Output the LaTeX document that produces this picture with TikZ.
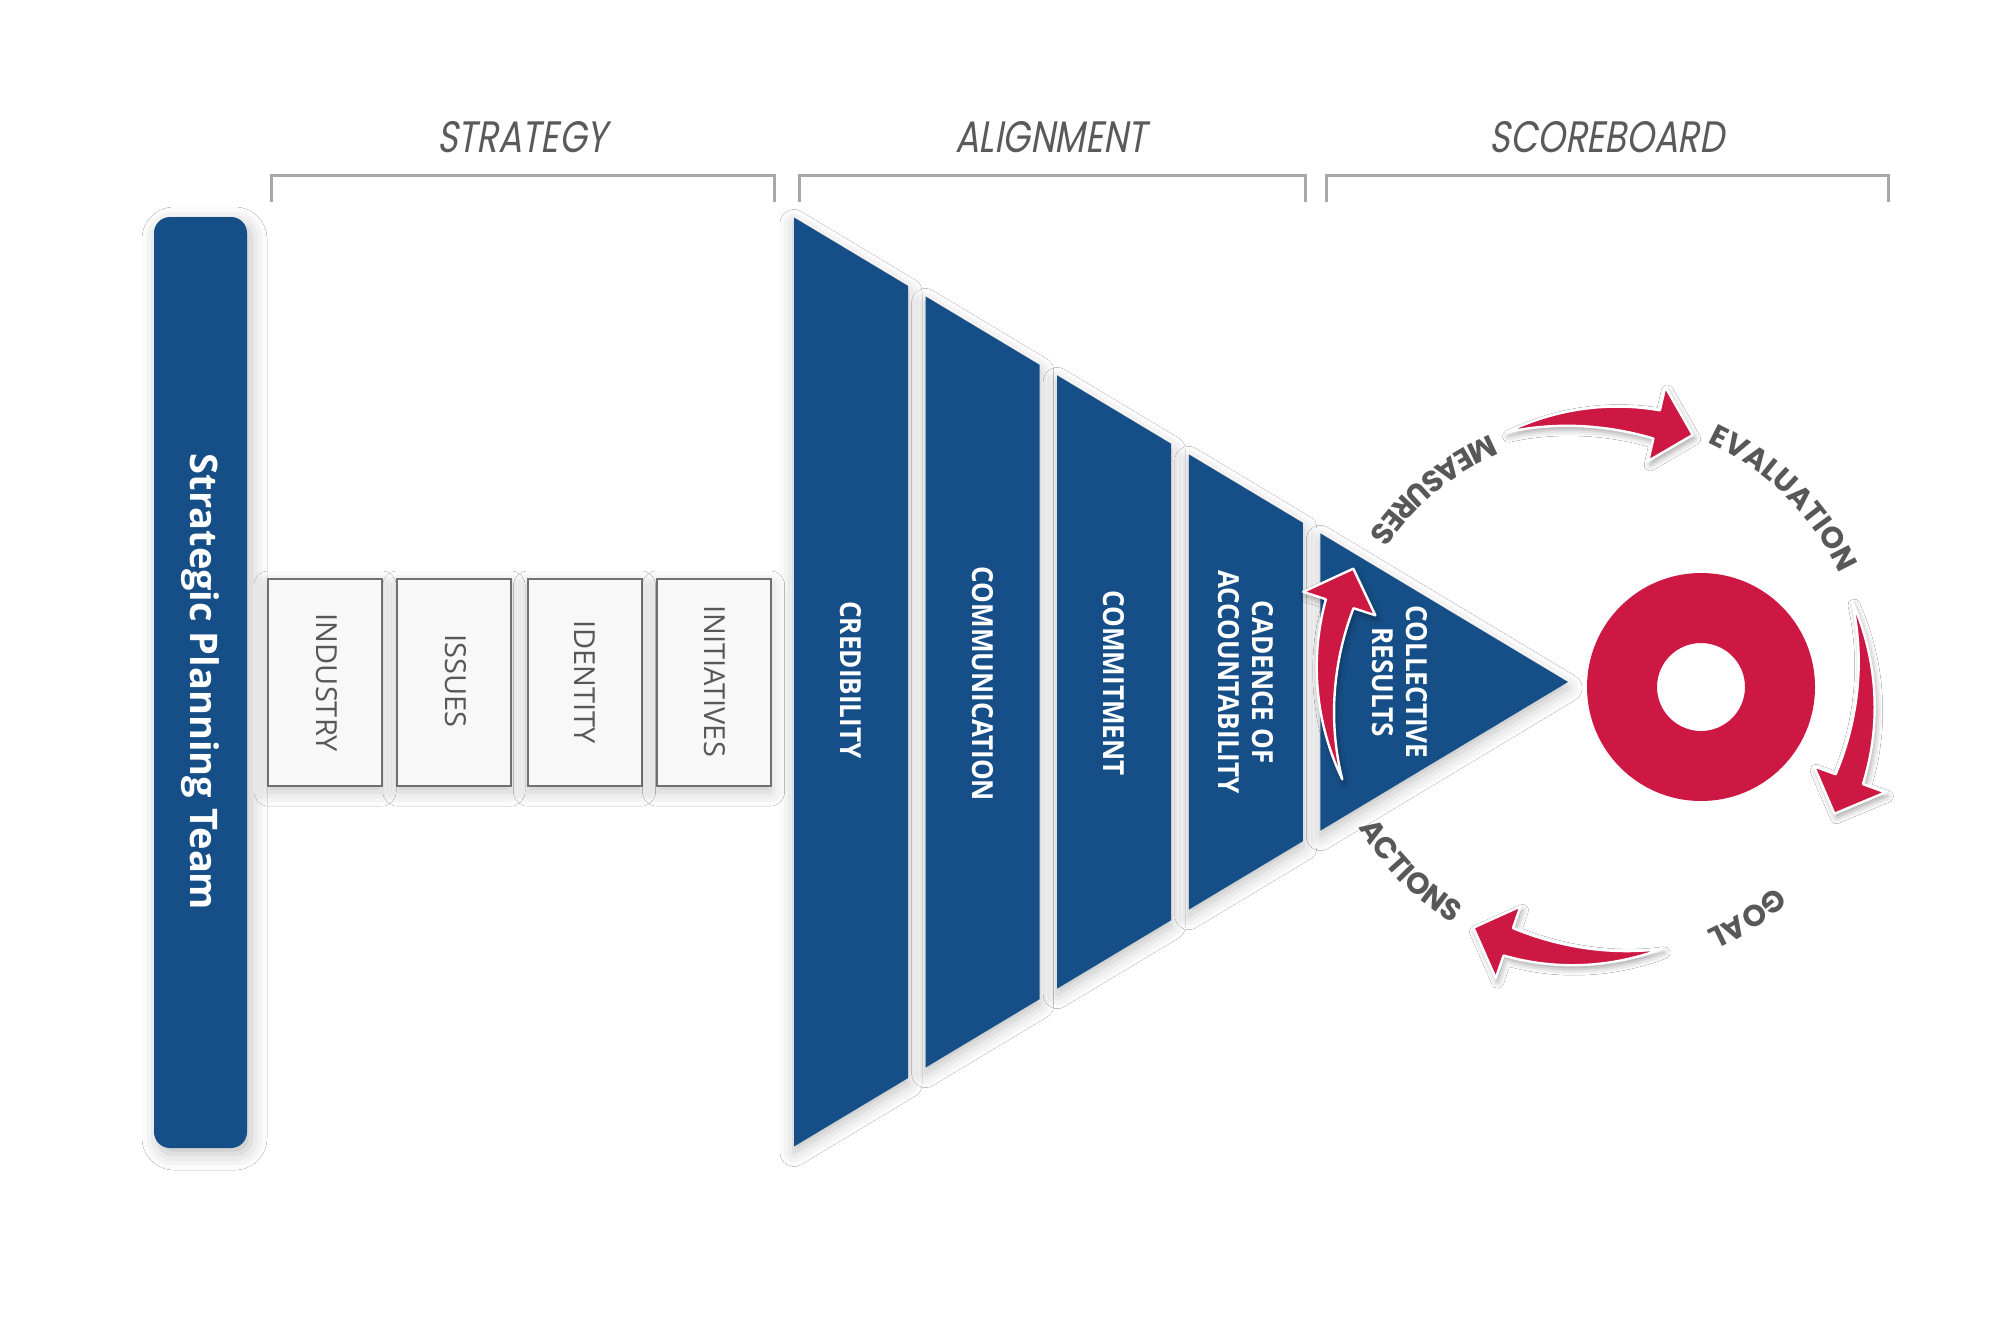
\documentclass[tikz,border=0pt]{standalone}
\usepackage{fontspec}
\setmainfont{Open Sans}
\newfontfamily\osfont[FakeStretch=0.9]{Open Sans}
\newfontfamily\boxfont{Open Sans}
\newfontfamily\teamfont{Open Sans}
\newfontfamily\hdrfont[FakeStretch=0.8,FakeSlant=0.18]{Poppins}
\newfontfamily\lblfont{Poppins}
\usetikzlibrary{shadows.blur,decorations.text}
\definecolor{fblue}{RGB}{22,79,135}
\definecolor{fred}{RGB}{204,24,66}
\definecolor{txtgray}{RGB}{88,88,88}
\definecolor{hdrgray}{RGB}{90,90,90}
\definecolor{brgray}{RGB}{168,168,168}
\definecolor{boxfill}{RGB}{248,248,248}
\definecolor{boxline}{RGB}{112,112,112}
\tikzset{
  hdr/.style={font={\hdrfont\fontsize{22}{24}\selectfont}, text=hdrgray, inner sep=0pt},
  bracket/.style={draw=brgray, line width=1.5pt},
  segshape/.style={fill=fblue, blur shadow={shadow xshift=0pt, shadow yshift=-3pt, shadow blur radius=7pt, shadow opacity=25}},
  segtxt/.style={font={\osfont\bfseries\fontsize{14.5}{17}\selectfont}, text=white, rotate=-90, align=center, inner sep=0pt},
  boxtxt/.style={font={\boxfont\fontsize{14.5}{17}\selectfont}, text=txtgray, rotate=-90, inner sep=0pt},
  sbox/.style={draw=boxline, line width=1pt, fill=boxfill, minimum width=57pt, minimum height=103.5pt, inner sep=0pt,
    blur shadow={shadow xshift=0pt, shadow yshift=-3pt, shadow blur radius=7pt, shadow opacity=22}},
  teambar/.style={fill=fblue, rounded corners=8pt, minimum width=46.5pt, minimum height=465.5pt, inner sep=0pt,
    blur shadow={shadow xshift=2pt, shadow yshift=-3pt, shadow blur radius=8pt, shadow opacity=25}},
  teamtxt/.style={font={\teamfont\bfseries\fontsize{19}{22}\selectfont}, text=white, rotate=-90, inner sep=0pt},
  arrowsty/.style={fill=fred, draw=white, line width=1.2pt, line join=round,
    blur shadow={shadow xshift=1pt, shadow yshift=-2pt, shadow blur radius=3pt, shadow opacity=35}},
  target/.style={fill=fred, even odd rule},
  declare function={tp(\u)=0.6*\u+0.4*sin(90*\u);},
}
% curved tapered arrow on the cycle: tail angle, head-base angle, tip angle
\newcommand\redarrow[3]{%
  \fill[arrowsty]
    plot[domain=0:1, samples=40, variable=\u]
      ({1596+(270+14*tp(\u))*cos(#1+(#2-#1)*\u)}, {687+(270+14*tp(\u))*sin(#1+(#2-#1)*\u)})
    -- ({1596+308*cos(#2)},{687+308*sin(#2)})
    -- ({1596+270*cos(#3)},{687+270*sin(#3)})
    -- ({1596+232*cos(#2)},{687+232*sin(#2)})
    -- plot[domain=0:1, samples=40, variable=\u]
      ({1596+(270-15*tp(1-\u))*cos(#2+(#1-#2)*\u)}, {687+(270-15*tp(1-\u))*sin(#2+(#1-#2)*\u)})
    -- cycle;}
% label along the cycle: mid angle, radius, direction (+1 clockwise, -1 counter), text
\newcommand\arclabel[4]{%
  \path[decorate, decoration={text along path, text align=center,
      text={|\lblfont\bfseries\fontsize{15}{15}\selectfont\color{txtgray}|#4}}]
    plot[domain=0:1, samples=80, variable=\u]
      ({1596+#2*cos(#1+#3*40*(2*\u-1))}, {687+#2*sin(#1+#3*40*(2*\u-1))});}
\begin{document}
\begin{tikzpicture}[x=0.5pt, y=-0.5pt]
\fill[white] (0,0) rectangle (2000,1334);
\useasboundingbox (0,0) rectangle (2000,1334);

% headers and brackets
\node[hdr] (hstrat) at (522,137) {STRATEGY};
\node[hdr] (halign) at (1051,137) {ALIGNMENT};
\node[hdr] (hscore) at (1607,137) {SCOREBOARD};
\draw[bracket] (271,202) -- (271,175) -- (774,175) -- (774,202);
\draw[bracket] (799,202) -- (799,175) -- (1305,175) -- (1305,202);
\draw[bracket] (1326,202) -- (1326,175) -- (1888,175) -- (1888,202);

% strategic planning team bar
\node[teambar] (team) at (200.5,682.5) {};
\node[teamtxt] (teamlbl) at (200,682) {Strategic Planning Team};

% strategy boxes
\node[sbox] (bind) at (325,682.5) {};
\node[sbox] (biss) at (454,682.5) {};
\node[sbox] (bide) at (584.5,682.5) {};
\node[sbox] (bini) at (713.5,682.5) {};
\node[boxtxt] (tind) at (327,683) {INDUSTRY};
\node[boxtxt] (tiss) at (456,681) {ISSUES};
\node[boxtxt] (tide) at (585,682) {IDENTITY};
\node[boxtxt] (tini) at (715,681) {INITIATIVES};

% funnel segments
\fill[segshape] (794,217.5) -- (908,285.9) -- (908,1078.1) -- (794,1146.5) -- cycle;
\fill[segshape] (925.6,296.46) -- (1039.6,364.86) -- (1039.6,999.14) -- (925.6,1067.54) -- cycle;
\fill[segshape] (1057.2,375.42) -- (1171.2,443.82) -- (1171.2,920.18) -- (1057.2,988.58) -- cycle;
\fill[segshape] (1188.8,454.38) -- (1302.8,522.78) -- (1302.8,841.22) -- (1188.8,909.62) -- cycle;
\fill[segshape] (1320.4,533.34) -- (1568,682) -- (1320.4,830.66) -- cycle;

\node[segtxt] (tcred) at (851,680) {CREDIBILITY};
\node[segtxt] (tcomm) at (983,684) {COMMUNICATION};
\node[segtxt] (tcmit) at (1114,683) {COMMITMENT};
\node[segtxt] (tcad) at (1246,682) {CADENCE OF\\ACCOUNTABILITY};
\node[segtxt] (tcoll) at (1400,682) {COLLECTIVE\\RESULTS};

% target
\fill[target] (1701,687) circle[radius=114] (1701,687) circle[radius=44];
\coordinate (goalc) at (1701,687);

% cycle arrows
\redarrow{-109.4}{-77}{-69}
\redarrow{-18.6}{20}{28}
\redarrow{75.8}{109}{117}
\redarrow{160}{198}{206}

% cycle labels
\arclabel{-129.5}{273}{-1}{MEASURES}
\arclabel{-45.2}{269}{1}{EVALUATION}
\arclabel{56.8}{268}{1}{GOAL}
\arclabel{135.3}{276}{-1}{ACTIONS}
\end{tikzpicture}
\end{document}
